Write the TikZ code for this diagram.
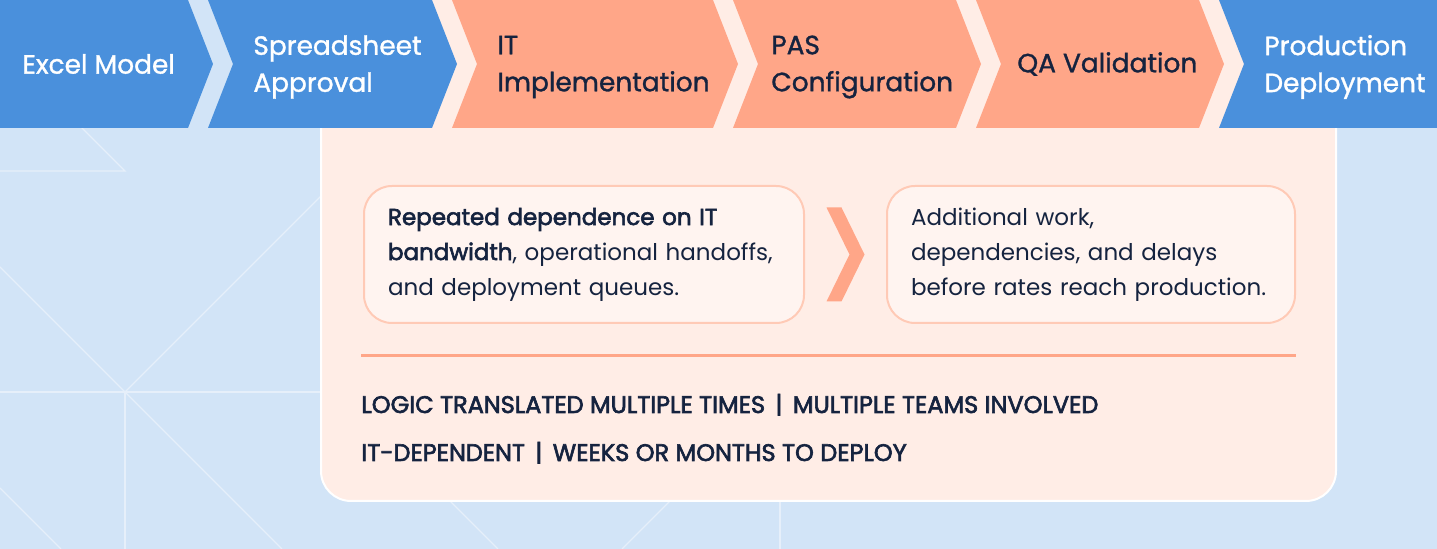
\documentclass[tikz,border=0pt]{standalone}
\usepackage{fontspec}
\setmainfont{Poppins}
\newfontfamily\mediumfont{Poppins}[FakeBold=1.2]
\newfontfamily\semifont{Poppins}[FakeBold=2.6]
\usetikzlibrary{positioning,calc}

\definecolor{bgblue}{HTML}{D2E4F7}
\definecolor{bgline}{HTML}{E6EFFA}
\definecolor{stageblue}{HTML}{4A90DC}
\definecolor{stageorange}{HTML}{FFA688}
\definecolor{panelpink}{HTML}{FFEDE6}
\definecolor{cardfill}{HTML}{FFF4F0}
\definecolor{cardline}{HTML}{FFCAB6}
\definecolor{navy}{HTML}{15233F}

\begin{document}
\begin{tikzpicture}[
    x=0.5pt, y=-0.5pt,
    stagelabel/.style={anchor=west, align=left, inner sep=0pt, font=\mediumfont\fontsize{13.2}{18.5}\selectfont},
    onblue/.style={stagelabel, text=white},
    onorange/.style={stagelabel, text=navy},
    card/.style={rectangle, draw=cardline, line width=1pt, fill=cardfill, rounded corners=14pt, minimum height=68.5pt, inner xsep=12pt, align=left, text=navy, font=\fontsize{11.5}{17.5}\selectfont},
    tag/.style={anchor=base west, inner sep=0pt, text=navy, font=\semifont\fontsize{12}{13}\selectfont},
    bgrule/.style={draw=bgline, line width=0.7pt},
]

% Background
\clip (0,0) rectangle (1437,549);
\fill[bgblue] (0,0) rectangle (1437,549);

% Faint pattern lines
\draw[bgrule] (70,116) -- (125,171) -- (0,171);
\draw[bgrule] (0,267) -- (125,392) -- (400,117);
\draw[bgrule] (0,392) -- (400,392);
\draw[bgrule] (125,392) -- (125,549);
\draw[bgrule] (125,392) -- (282,549);
\draw[bgrule] (0,488) -- (61,549);
\draw[bgrule] (400,451) -- (498,549);
\draw[bgrule] (720,451) -- (622,549);
\draw[bgrule] (780,451) -- (780,549);

% Highlight panel
\draw[white, line width=1pt, fill=panelpink, rounded corners=15pt] (321,-40) rectangle (1336,501);

% Stage chevrons
\fill[stageblue] (0,0) -- (188,0) -- (213,64) -- (188,128) -- (0,128) -- cycle;
\fill[stageblue] (208,0) -- (432,0) -- (457,64) -- (432,128) -- (208,128) -- (233,64) -- cycle;
\fill[stageorange] (452,0) -- (713,0) -- (738,64) -- (713,128) -- (452,128) -- (477,64) -- cycle;
\fill[stageorange] (733,0) -- (956,0) -- (981,64) -- (956,128) -- (733,128) -- (758,64) -- cycle;
\fill[stageorange] (976,0) -- (1199,0) -- (1224,64) -- (1199,128) -- (976,128) -- (1001,64) -- cycle;
\fill[stageblue] (1219,0) -- (1437,0) -- (1437,128) -- (1219,128) -- (1244,64) -- cycle;

% Stage labels
\node[onblue] (excel) at (22,64) {Excel Model};
\node[onblue] (sheet) at (253,67) {Spreadsheet\\Approval};
\node[onorange] (itimpl) at (497,67) {IT\\Implementation};
\node[onorange] (pas) at (771,67) {PAS\\Configuration};
\node[onorange] (qa) at (1017,64) {QA Validation};
\node[onblue] (prod) at (1264,67) {Production\\Deployment};

% Cards
\node[card, anchor=north west, text width=196pt] (c1) at (363,185) {{\semifont Repeated dependence on IT}\\{\semifont bandwidth}, operational handoffs,\\and deployment queues.};
\node[card, right=40.5pt of c1, text width=180pt] (c2) {Additional work,\\dependencies, and delays\\before rates reach production.};

\coordinate (mid) at ($(c1.east)!0.5!(c2.west)$);
\fill[stageorange, shift={(mid)}] (-19,-47) -- (-4,-47) -- (19,0) -- (-4,47) -- (-19,47) -- (4,0) -- cycle;

% Divider and tags
\draw[stageorange, line width=1.5pt] (361,356) -- (1296,356);
\node[tag] (t1) at (361,413) {LOGIC TRANSLATED MULTIPLE TIMES \,|\, MULTIPLE TEAMS INVOLVED};
\node[tag] (t2) at (361,461) {IT-DEPENDENT \,|\, WEEKS OR MONTHS TO DEPLOY};

\end{tikzpicture}
\end{document}
